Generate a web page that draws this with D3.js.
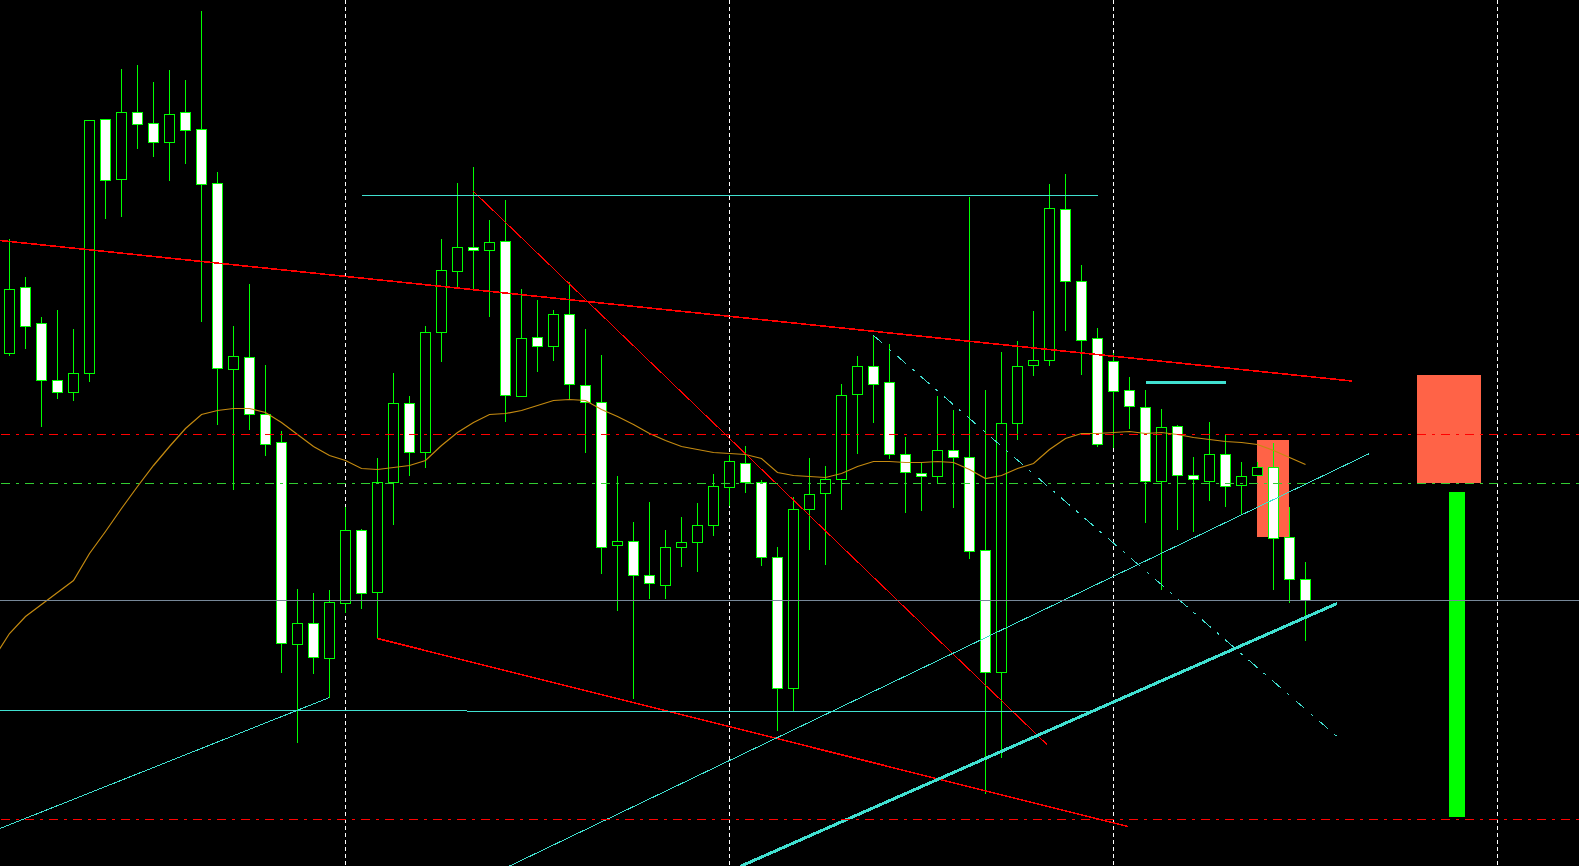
<!DOCTYPE html>
<html><head><meta charset="utf-8">
<script src="https://cdn.jsdelivr.net/npm/d3@7"></script>
<style>html,body{margin:0;padding:0;background:#000;overflow:hidden}svg{display:block}</style>
</head><body><svg id="chart"></svg>
<script>
// ---------- DATA ----------
// bar index 0..81 (hourly bars), prices in chart units
const opens  = [647,713,677,620,608,627,881,821,888,877,858,888,871,817,631,643,586,558,356,377,342,397,470,408,518,597,548,668,729,753,750,759,604,663,654,686,615,598,455,459,425,415,453,458,475,513,537,518,443,312,491,507,521,606,634,618,546,527,524,550,543,450,328,577,635,640,791,719,662,639,610,593,519,574,525,519,546,515,525,533,463,421];
const highs  = [761,723,683,690,671,880,881,931,935,918,930,920,989,828,674,716,635,569,411,407,410,493,471,542,627,604,674,761,817,833,780,800,711,700,690,718,671,645,524,478,498,470,483,497,526,545,554,520,453,503,542,534,616,644,665,656,563,538,604,590,803,610,648,659,689,816,826,735,672,647,623,610,591,575,543,578,565,538,538,557,493,438];
const lows   = [645,652,574,602,600,619,782,784,852,844,820,837,679,576,511,571,545,328,258,327,303,388,392,362,476,525,533,639,713,711,684,579,604,629,640,602,548,427,390,302,402,402,434,429,465,495,508,435,270,290,451,436,491,547,578,542,488,490,517,493,442,207,243,561,625,635,670,626,554,553,572,478,411,471,469,500,494,487,525,411,398,360];
const closes = [711,674,620,608,627,880,820,888,876,858,886,870,816,632,644,586,556,357,377,343,398,470,407,518,597,548,668,730,753,750,758,605,662,654,686,616,598,453,459,425,417,453,458,475,514,539,518,443,312,491,506,521,605,634,616,546,528,524,550,543,449,328,577,634,640,792,719,660,556,609,594,519,573,525,521,546,514,524,533,462,421,400];
// moving average, first value belongs to bar -1
const maFirstBar = -1;
const maValues = [342,367,384,396,408,420,447,469,492,514,535,554,572,586,590,592,592,588,578,566,554,545,540,532,531,533,535,540,555,568,578,586,587,590,595,600,601,600,591,584,576,567,560,554,551,548,547,546,542,528,525,524,523,527,534,539,539,538,538,539,538,531,522,525,532,537,551,562,567,567,568,569,567,568,566,563,561,559,558,556,550,543,536];
// day separators (bar index)
const separatorBars = [21,45,69,93];
// horizontal levels
const redLevels = [566,181];
const greenLevels = [517];
const grayLevels = [400];
// trend lines [bar0, price0, bar1, price1]
const redLongLine  = [-0.594,760,83.9,619.5];
const redSteepLine = [29,809,64.84,256];
const redLowLine   = [23,362,69.9,174];
const cyanThinLines = [[-0.594,172,20,303],[31.19,134,85.0,547],[22,805,68,805],[-0.594,290,67.72,288.8]];
const cyanThickLine = [45.66,134,82.97,397];
const cyanShortLine = [71,618,76,618];
const cyanDashLine  = [54,665,82.97,264];
// boxes [bar0, bar1, priceTop, priceBottom]
const salmonBoxes = [[78,80,560,463],[88,92,625,517]];
const greenBars = [[90,91,508,183]];

// ---------- CHART ----------
const W = 1579, H = 866;
const svg = d3.select("#chart").attr("width", W).attr("height", H)
  .style("background", "#000");
svg.append("rect").attr("width", W).attr("height", H).attr("fill", "#000");

const x = d3.scaleLinear().domain([0, 98]).range([9.5, 9.5 + 16 * 98]);
const y = d3.scaleLinear().domain([1000, 134]).range([0, 866]);

const bars = d3.range(opens.length).map(i => ({i, o: opens[i], h: highs[i], l: lows[i], c: closes[i]}));

// separators
svg.append("g").selectAll("line").data(separatorBars).join("line")
  .attr("x1", d => Math.floor(x(d)) + 0.5).attr("x2", d => Math.floor(x(d)) + 0.5)
  .attr("y1", 0).attr("y2", H)
  .attr("stroke", "#fff").attr("stroke-width", 1).attr("stroke-dasharray", "4,3")
  .attr("shape-rendering", "crispEdges");

// boxes
svg.append("g").selectAll("rect").data(salmonBoxes).join("rect")
  .attr("x", d => x(d[0]) - 0.5).attr("width", d => x(d[1]) - x(d[0]))
  .attr("y", d => y(d[2])).attr("height", d => y(d[3]) - y(d[2]))
  .attr("fill", "#FF6347").attr("shape-rendering", "crispEdges");
svg.append("g").selectAll("rect").data(greenBars).join("rect")
  .attr("x", d => x(d[0]) - 0.5).attr("width", d => x(d[1]) - x(d[0]))
  .attr("y", d => y(d[2])).attr("height", d => y(d[3]) - y(d[2]))
  .attr("fill", "#00FF00").attr("shape-rendering", "crispEdges");

// candles
const cg = svg.append("g").attr("shape-rendering", "crispEdges");
cg.selectAll("line.wick").data(bars).join("line").attr("class", "wick")
  .attr("x1", d => x(d.i)).attr("x2", d => x(d.i))
  .attr("y1", d => Math.round(y(d.h))).attr("y2", d => Math.round(y(d.l)) + 1)
  .attr("stroke", "#00FF00").attr("stroke-width", 1);
cg.selectAll("rect.body").data(bars).join("rect").attr("class", "body")
  .attr("x", d => x(d.i) - 5).attr("width", 10)
  .attr("y", d => Math.round(Math.min(y(d.o), y(d.c))) + 0.5)
  .attr("height", d => Math.max(1, Math.round(Math.abs(y(d.o) - y(d.c)))))
  .attr("fill", d => d.c >= d.o ? "#000" : "#fff")
  .attr("stroke", "#00FF00").attr("stroke-width", 1);

// moving average
const maLine = d3.line().x((d, k) => x(k + maFirstBar)).y(d => y(d) + 0.5);
svg.append("path").datum(maValues).attr("d", maLine)
  .attr("fill", "none").attr("stroke", "#C48A10").attr("stroke-width", 1.2);

// trend lines
function seg(g, d, color, width, dash) {
  const l = g.append("line")
    .attr("x1", x(d[0])).attr("y1", y(d[1]) + 0.5)
    .attr("x2", x(d[2])).attr("y2", y(d[3]) + 0.5)
    .attr("stroke", color).attr("stroke-width", width)
    .attr("shape-rendering", "crispEdges");
  if (dash) l.attr("stroke-dasharray", dash);
  return l;
}
const tg = svg.append("g");
seg(tg, redLongLine, "#FF0000", 1.6);
seg(tg, redSteepLine, "#FF0000", 1);
seg(tg, redLowLine, "#FF0000", 1.5);
cyanThinLines.forEach(d => seg(tg, d, "#40E0D0", 1));
seg(tg, cyanThickLine, "#40E0D0", 3);
seg(tg, cyanShortLine, "#40E0D0", 2.2);
seg(tg, cyanDashLine, "#40E0D0", 1, "12,8,3,8");

// horizontal levels
const hg = svg.append("g").attr("shape-rendering", "crispEdges");
hg.selectAll("line.g").data(greenLevels).join("line").attr("class", "g")
  .attr("x1", 0).attr("x2", W).attr("y1", d => y(d) + 0.5).attr("y2", d => y(d) + 0.5)
  .attr("stroke", "#32CD32").attr("stroke-width", 1)
  .attr("stroke-dasharray", "9,6,3,6").attr("stroke-dashoffset", 23);
hg.selectAll("line.r").data(redLevels).join("line").attr("class", "r")
  .attr("x1", 0).attr("x2", W).attr("y1", d => y(d) + 0.5).attr("y2", d => y(d) + 0.5)
  .attr("stroke", "#FF0000").attr("stroke-width", 1)
  .attr("stroke-dasharray", "9,6,3,6").attr("stroke-dashoffset", 23);
hg.selectAll("line.s").data(grayLevels).join("line").attr("class", "s")
  .attr("x1", 0).attr("x2", W).attr("y1", d => y(d) + 0.5).attr("y2", d => y(d) + 0.5)
  .attr("stroke", "#778899").attr("stroke-width", 1);
</script>
</body></html>
